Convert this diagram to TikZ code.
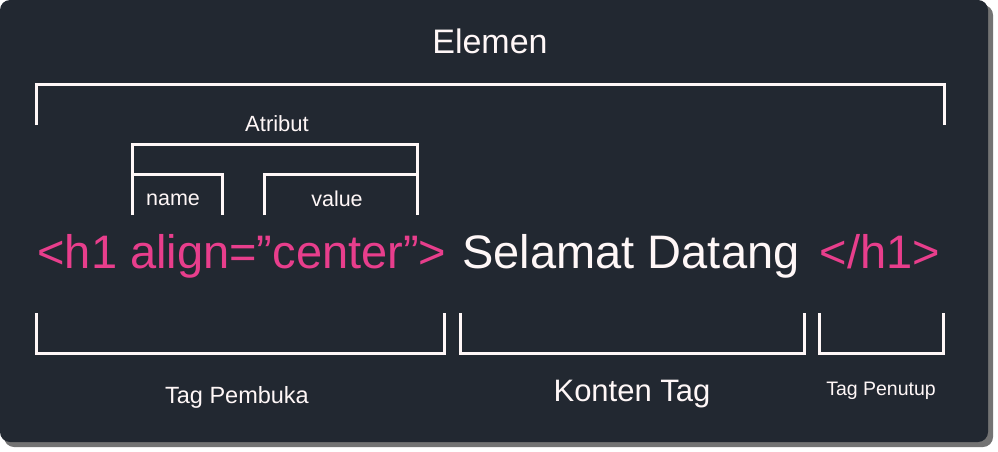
\documentclass[tikz,border=0pt]{standalone}
\usepackage{fontspec}
\setmainfont{Liberation Sans}
\definecolor{bgc}{HTML}{222831}
\definecolor{pinkc}{HTML}{E83E8C}
\definecolor{linec}{HTML}{FFF7F7}
\begin{document}
\begin{tikzpicture}[x=1pt,y=-1pt,
  brk/.style={draw=linec, line width=3pt, line cap=butt, line join=miter},
  lbl/.style={text=linec, inner sep=0pt, anchor=base},
  fs/.style={font=\fontsize{#1}{#1}\selectfont}]
\useasboundingbox (0,0) rectangle (998,452);
\fill[black!55, rounded corners=10pt] (4,5) rectangle (993,447);
\fill[bgc, rounded corners=10pt] (0,0) rectangle (988,442);
% Elemen bracket
\draw[brk] (36,125) -- (36,84) -- (944,84) -- (944,125);
% Atribut bracket
\draw[brk] (132,215) -- (132,144) -- (417,144) -- (417,215);
\draw[brk] (132,174) -- (222,174) -- (222,215);
\draw[brk] (264,215) -- (264,174) -- (417,174);
% bottom brackets
\draw[brk] (36,313) -- (36,353) -- (444,353) -- (444,313);
\draw[brk] (460,313) -- (460,353) -- (804,353) -- (804,313);
\draw[brk] (819,313) -- (819,353) -- (943,353) -- (943,313);
% labels
\node[lbl, fs=34] (elemen) at (490,54) {Elemen};
\node[lbl, fs=22] (atribut) at (277,131) {Atribut};
\node[lbl, fs=21.5] (name) at (173,205) {name};
\node[lbl, fs=21.5] (value) at (337,206) {value};
\node[lbl, fs=47, text=pinkc] (open) at (242,268) {<h1 align=”center”>};
\node[lbl, fs=47] (content) at (631,268) {Selamat Datang};
\node[lbl, fs=47, text=pinkc] (close) at (880,268) {</h1>};
\node[lbl, fs=23.5] (tp) at (237,403) {Tag Pembuka};
\node[lbl, fs=31] (kt) at (632,401) {Konten Tag};
\node[lbl, fs=19.5] (tpt) at (881,395) {Tag Penutup};
\end{tikzpicture}
\end{document}
